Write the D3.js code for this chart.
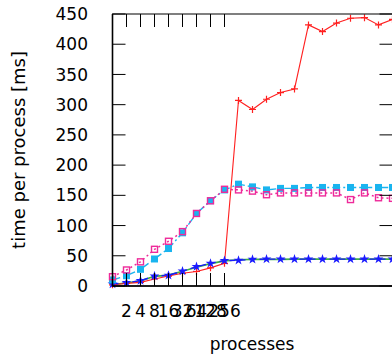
<!DOCTYPE html>
<html>
<head>
<meta charset="utf-8">
<script src="https://cdn.jsdelivr.net/npm/d3@7"></script>
<style>
  html, body { margin: 0; padding: 0; background: #fff; }
  svg { display: block; }
  text { font-family: "DejaVu Sans", sans-serif; fill: #000; }
</style>
</head>
<body>
<svg id="chart" width="392" height="355"></svg>
<script>
// process counts: powers of two from 1 to 2^20
const processes = d3.range(0, 21).map(k => Math.pow(2, k));
const xTickValues = [1, 2, 4, 8, 16, 32, 64, 128, 256];
const xTickLabels = ["", "2", "4", "8", "16", "32", "64", "128", "256"];
const yTickValues = [0, 50, 100, 150, 200, 250, 300, 350, 400, 450];

// time per process [ms]
const redSeries = [2, 4.4, 6, 11.6, 16.5, 21, 24, 30, 37.5, 307, 292, 309, 320, 326, 432, 421, 435, 443, 444, 432, 441];
const greenSeries = [2.5, 5, 8.5, 16, 18, 24.5, 31, 37, 41.5, 43.5, 44, 44, 44, 44.5, 44.5, 44.5, 44.5, 44.5, 44.5, 44.5, 44.5];
const blueSeries = [3, 5.5, 8.8, 16.5, 17.6, 24.5, 32, 37.5, 42, 42.5, 44, 44.5, 44.5, 44.5, 44.5, 44.5, 44.5, 44.5, 44.5, 44.5, 44.5];
const cyanSeries = [10, 17, 27.6, 44.7, 62, 88, 120, 141, 159, 168.5, 164, 159, 161.5, 161.5, 163, 163, 163, 163, 163, 163, 163];
const pinkSeries = [15.4, 26.5, 40, 60.7, 74, 90, 120, 141, 160, 159, 157, 151, 154, 154, 154, 154, 154, 143, 154, 146, 145];

const svg = d3.select("#chart");
const plotLeft = 112.5, plotRight = 392.5, plotTop = 14, plotBottom = 286;

const x = d3.scaleLog().base(2).domain([1, Math.pow(2, 20)]).range([plotLeft, plotRight]);
const y = d3.scaleLinear().domain([0, 450]).range([plotBottom, plotTop]);

const plot = svg.append("g");

function drawLine(values, color, width, dash) {
  const line = d3.line().x((d, i) => x(processes[i])).y(d => y(d));
  plot.append("path")
    .datum(values)
    .attr("fill", "none")
    .attr("stroke", color)
    .attr("stroke-width", width)
    .attr("stroke-dasharray", dash)
    .attr("d", line);
}

// lines
drawLine(greenSeries, "#3cb043", 1.6, null);
drawLine(redSeries, "#ff2020", 1.1, null);
drawLine(blueSeries, "#1a1aff", 1.4, "6,4");
drawLine(cyanSeries, "#19b4ef", 1.4, "8,3,2,3");
drawLine(pinkSeries, "#ee2a9a", 1.5, "2,3");

// markers: red plus
plot.append("g").selectAll("path")
  .data(redSeries).join("path")
  .attr("d", (d, i) => {
    const cx = x(processes[i]), cy = y(d), r = 3.5;
    return `M${cx - r},${cy}H${cx + r}M${cx},${cy - r}V${cy + r}`;
  })
  .attr("stroke", "#ff2020").attr("stroke-width", 1.2).attr("fill", "none");

// markers: blue star
const star = d3.symbol().type(d3.symbolStar).size(30);
plot.append("g").selectAll("path")
  .data(blueSeries).join("path")
  .attr("transform", (d, i) => `translate(${x(processes[i])},${y(d)})`)
  .attr("d", star)
  .attr("fill", "#1a1aff");

// markers: cyan filled squares
plot.append("g").selectAll("rect")
  .data(cyanSeries).join("rect")
  .attr("x", (d, i) => x(processes[i]) - 3.5)
  .attr("y", d => y(d) - 3.5)
  .attr("width", 7).attr("height", 7)
  .attr("fill", "#19b4ef");

// markers: pink open squares
plot.append("g").selectAll("rect")
  .data(pinkSeries).join("rect")
  .attr("x", (d, i) => x(processes[i]) - 3)
  .attr("y", d => y(d) - 3)
  .attr("width", 6).attr("height", 6)
  .attr("fill", "none")
  .attr("stroke", "#ee2a9a").attr("stroke-width", 1.4);

// frame
const axes = svg.append("g");
axes.append("rect")
  .attr("x", plotLeft).attr("y", plotTop)
  .attr("width", plotRight - plotLeft).attr("height", plotBottom - plotTop)
  .attr("fill", "none").attr("stroke", "#000").attr("stroke-width", 1);
axes.append("line").attr("x1", plotLeft).attr("x2", plotLeft).attr("y1", plotTop).attr("y2", plotBottom)
  .attr("stroke", "#000").attr("stroke-width", 1.6);
axes.append("line").attr("x1", plotLeft).attr("x2", plotRight).attr("y1", plotBottom).attr("y2", plotBottom)
  .attr("stroke", "#000").attr("stroke-width", 1.6);

const tickLen = 13;

// y ticks (left and mirrored right)
yTickValues.forEach(v => {
  const yy = y(v);
  axes.append("line").attr("x1", plotLeft).attr("x2", plotLeft + tickLen).attr("y1", yy).attr("y2", yy)
    .attr("stroke", "#000").attr("stroke-width", 1);
  axes.append("line").attr("x1", plotRight - tickLen).attr("x2", plotRight).attr("y1", yy).attr("y2", yy)
    .attr("stroke", "#000").attr("stroke-width", 1);
  axes.append("text")
    .attr("x", 88).attr("y", yy)
    .attr("dy", "0.36em")
    .attr("text-anchor", "end")
    .attr("font-size", 17)
    .text(v);
});

// x ticks (bottom and mirrored top)
xTickValues.forEach((v, i) => {
  const xx = x(v);
  axes.append("line").attr("x1", xx).attr("x2", xx).attr("y1", plotBottom).attr("y2", plotBottom - tickLen)
    .attr("stroke", "#000").attr("stroke-width", 1);
  axes.append("line").attr("x1", xx).attr("x2", xx).attr("y1", plotTop).attr("y2", plotTop + tickLen)
    .attr("stroke", "#000").attr("stroke-width", 1);
  axes.append("text")
    .attr("x", xx).attr("y", 316.5)
    .attr("text-anchor", "middle")
    .attr("font-size", 17)
    .text(xTickLabels[i]);
});

// axis titles
svg.append("text")
  .attr("x", 252).attr("y", 350)
  .attr("text-anchor", "middle")
  .attr("font-size", 17)
  .text("processes");

svg.append("text")
  .attr("transform", "translate(25,150) rotate(-90)")
  .attr("text-anchor", "middle")
  .attr("font-size", 18)
  .text("time per process [ms]");
</script>
</body>
</html>
